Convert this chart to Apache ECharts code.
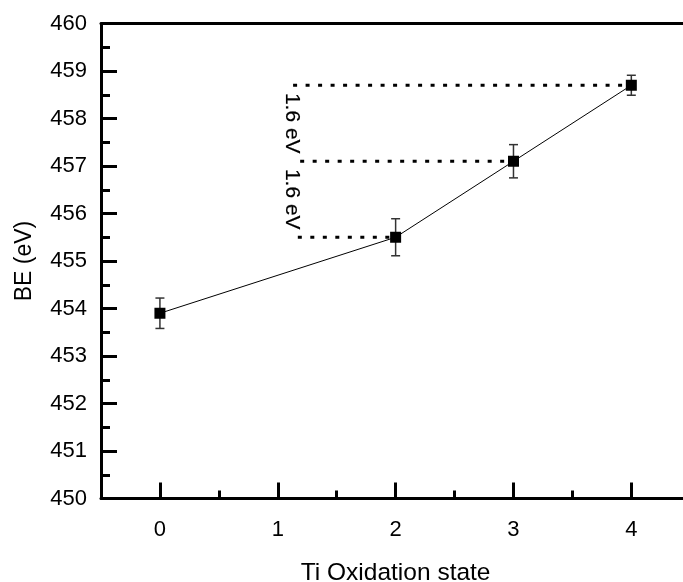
<!DOCTYPE html>
<html>
<head>
<meta charset="utf-8">
<title>BE vs Ti oxidation state</title>
<script src="https://cdn.jsdelivr.net/npm/echarts@6/dist/echarts.min.js"></script>
<style>
  html, body { margin: 0; padding: 0; background: #fff; }
  #chart { width: 683px; height: 582px; }
</style>
</head>
<body>
<div id="chart"></div>
<script>
// Ti 2p binding energy vs oxidation state
const states = [0, 2, 3, 4];
const be = [453.9, 455.5, 457.1, 458.7];
const beErr = [0.32, 0.39, 0.35, 0.21];

// dotted guide lines: start x, level, end x
const guideStart = [1.13, 1.19, 1.17];
const guideLevel = [458.7, 457.1, 455.5];
const guideEnd = [4, 3, 2];
const gapLabels = ['1.6 eV', '1.6 eV'];
const gapLabelX = 1.12;

const xMajor = [0, 1, 2, 3, 4];
const xMinor = [0.5, 1.5, 2.5, 3.5];

const font = "'Liberation Sans', Arial, sans-serif";
const black = '#000';

const guideSeries = guideLevel.map(function (lv, i) {
    return {
        type: 'line',
        data: [[guideStart[i], lv], [guideEnd[i], lv]],
        symbol: 'none',
        silent: true,
        lineStyle: { color: black, width: 3, type: [4, 8.5] },
        z: 2
    };
});

// labels sit halfway between neighbouring levels
const gapData = gapLabels.map(function (t, i) {
    return [gapLabelX, (guideLevel[i] + guideLevel[i + 1]) / 2];
});

const chart = echarts.init(document.getElementById('chart'));
chart.setOption({
    animation: false,
    grid: { left: 101, top: 23.5, width: 589.25, height: 475, containLabel: false, outerBoundsMode: 'none' },
    xAxis: [
        {
            type: 'value', min: -0.5, max: 4.5,
            name: 'Ti Oxidation state',
            nameLocation: 'middle', nameGap: 62,
            nameTextStyle: { color: black, fontSize: 24.5, fontFamily: font },
            axisLine: { onZero: false, lineStyle: { color: black, width: 3 } },
            axisTick: { inside: true, length: 16, customValues: xMajor, lineStyle: { color: black, width: 3 } },
            axisLabel: { customValues: xMajor, color: black, fontSize: 22, fontFamily: font, margin: 20 },
            splitLine: { show: false }
        },
        {
            type: 'value', min: -0.5, max: 4.5, position: 'bottom',
            axisLine: { show: false, onZero: false },
            axisTick: { inside: true, length: 8, customValues: xMinor, lineStyle: { color: black, width: 3 } },
            axisLabel: { show: false },
            splitLine: { show: false }
        },
        {
            type: 'value', min: -0.5, max: 4.5, position: 'top',
            axisLine: { onZero: false, lineStyle: { color: black, width: 3 } },
            axisTick: { show: false },
            axisLabel: { show: false },
            splitLine: { show: false }
        }
    ],
    yAxis: {
        type: 'value', min: 450, max: 460, interval: 1,
        name: 'BE (eV)',
        nameLocation: 'middle', nameGap: 65,
        nameTextStyle: { color: black, fontSize: 23, fontFamily: font },
        axisLine: { onZero: false, lineStyle: { color: black, width: 3 } },
        axisTick: { inside: true, length: 16, lineStyle: { color: black, width: 3 } },
        minorTick: { show: true, splitNumber: 2, length: 9, lineStyle: { color: black, width: 3 } },
        axisLabel: { color: black, fontSize: 22, fontFamily: font, margin: 14 },
        splitLine: { show: false }
    },
    series: guideSeries.concat([
        {
            type: 'line',
            data: states.map(function (s, i) { return [s, be[i]]; }),
            showSymbol: false,
            lineStyle: { color: black, width: 1 },
            z: 3
        },
        {
            type: 'custom',
            data: states.map(function (s, i) { return [s, be[i], beErr[i]]; }),
            renderItem: function (params, api) {
                const x = api.value(0), y = api.value(1), e = api.value(2);
                const lo = api.coord([x, y - e]);
                const hi = api.coord([x, y + e]);
                const w = 4.5;
                const st = { stroke: '#333', lineWidth: 1.5 };
                return {
                    type: 'group',
                    children: [
                        { type: 'line', shape: { x1: lo[0], y1: lo[1], x2: hi[0], y2: hi[1] }, style: st },
                        { type: 'line', shape: { x1: lo[0] - w, y1: lo[1], x2: lo[0] + w, y2: lo[1] }, style: st },
                        { type: 'line', shape: { x1: hi[0] - w, y1: hi[1], x2: hi[0] + w, y2: hi[1] }, style: st }
                    ]
                };
            },
            z: 4
        },
        {
            type: 'scatter',
            data: states.map(function (s, i) { return [s, be[i]]; }),
            symbol: 'rect',
            symbolSize: 11,
            itemStyle: { color: black, opacity: 1 },
            z: 5
        },
        {
            // rotated "1.6 eV" gap labels
            type: 'custom',
            data: gapData,
            silent: true,
            renderItem: function (params, api) {
                const p = api.coord([api.value(0), api.value(1)]);
                return {
                    type: 'text',
                    x: p[0],
                    y: p[1],
                    rotation: -Math.PI / 2,
                    style: {
                        text: gapLabels[params.dataIndex],
                        fill: black,
                        stroke: black,
                        lineWidth: 0.15,
                        fontSize: 21,
                        fontFamily: font,
                        align: 'center',
                        verticalAlign: 'middle'
                    }
                };
            },
            z: 6
        }
    ])
});
</script>
</body>
</html>
